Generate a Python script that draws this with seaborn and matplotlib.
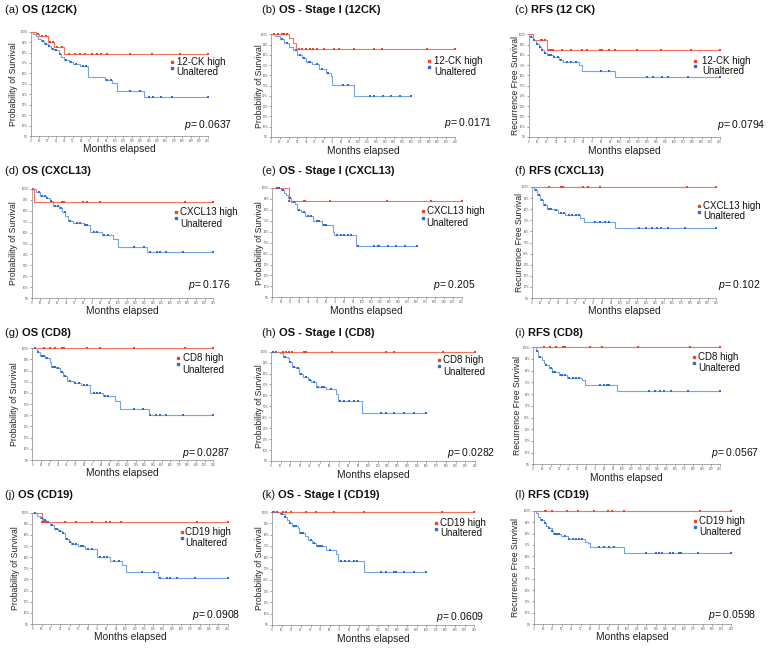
import numpy as np
import pandas as pd
import seaborn as sns
import matplotlib.pyplot as plt

# panel texts
panel_tags = ['(a)', '(b)', '(c)', '(d)', '(e)', '(f)', '(g)', '(h)', '(i)', '(j)', '(k)', '(l)']
panel_names = ['OS (12CK)', 'OS - Stage I (12CK)', 'RFS (12 CK)',
               'OS (CXCL13)', 'OS - Stage I (CXCL13)', 'RFS (CXCL13)',
               'OS (CD8)', 'OS - Stage I (CD8)', 'RFS (CD8)',
               'OS (CD19)', 'OS - Stage I (CD19)', 'RFS (CD19)']
high_labels = ['12-CK high'] * 3 + ['CXCL13 high'] * 3 + ['CD8 high'] * 3 + ['CD19 high'] * 3
p_values = ['0.0637', '0.0171', '0.0794', '0.176', '0.205', '0.102',
            '0.0287', '0.0282', '0.0567', '0.0908', '0.0609', '0.0598']
y_titles = ['Probability of Survival', 'Probability of Survival', 'Recurrence Free Survival'] * 4
x_ticks = list(range(0, 211, 10))
y_ticks = [0.0, 0.1, 0.2, 0.3, 0.4, 0.5, 0.6, 0.7, 0.8, 0.9, 1.0]
y_tick_labels = ['0%', '10%', '20%', '30%', '40%', '50%', '60%', '70%', '80%', '90%', '100%']

# step knots (month, survival) and censor times
a_high_t = [0, 6, 10, 20, 28, 40]
a_high_s = [1.0, 0.98, 0.96, 0.90, 0.85, 0.79]
a_high_c = [9, 13, 18, 23, 27, 31, 37, 45, 53, 59, 65, 73, 79, 83, 91, 118, 144, 177, 210]
a_unalt_t = [0, 3, 6, 9, 12, 16, 20, 24, 28, 33, 36, 40, 45, 50, 58, 68, 88, 97, 102, 135]
a_unalt_s = [1.0, 0.98, 0.96, 0.93, 0.91, 0.88, 0.86, 0.83, 0.82, 0.79, 0.76, 0.73, 0.71, 0.69, 0.67, 0.57, 0.54, 0.51, 0.43, 0.37]
a_unalt_c = [14, 18, 22, 26, 30, 35, 42, 48, 54, 62, 66, 90, 95, 118, 130, 140, 145, 155, 168, 210]

b_high_t = [0, 20, 25, 28]
b_high_s = [1.0, 0.96, 0.92, 0.855]
b_high_c = [3, 8, 12, 15, 18, 32, 35, 40, 45, 48, 52, 60, 72, 78, 95, 118, 127, 178, 210]
b_unalt_t = [0, 5, 10, 15, 20, 25, 30, 35, 40, 47, 55, 63, 68, 70, 95]
b_unalt_s = [1.0, 0.98, 0.95, 0.92, 0.88, 0.85, 0.80, 0.77, 0.73, 0.71, 0.66, 0.62, 0.59, 0.51, 0.40]
b_unalt_c = [12, 18, 28, 33, 38, 43, 45, 52, 58, 65, 82, 88, 113, 118, 128, 137, 147, 160]

c_high_t = [0, 5, 20]
c_high_s = [1.0, 0.94, 0.845]
c_high_c = [13, 15, 18, 22, 25, 27, 37, 46, 59, 64, 78, 81, 88, 95, 119, 145, 178, 210]
c_unalt_t = [0, 2, 5, 8, 11, 14, 17, 20, 27, 33, 38, 55, 59, 95]
c_unalt_s = [1.0, 0.97, 0.94, 0.91, 0.88, 0.85, 0.82, 0.80, 0.78, 0.75, 0.73, 0.70, 0.645, 0.58]
c_unalt_c = [3, 6, 9, 12, 15, 18, 22, 25, 28, 32, 36, 42, 47, 52, 80, 88, 130, 137, 147, 153, 175, 210]

d_high_t = [0, 3]
d_high_s = [1.0, 0.884]
d_high_c = [2, 35, 37, 59, 64, 79, 177, 210]
d_unalt_t = [0, 5, 10, 17, 21, 25, 31, 35, 39, 42, 48, 60, 67, 81, 94, 100, 133]
d_unalt_s = [1.0, 0.97, 0.94, 0.92, 0.89, 0.84, 0.83, 0.79, 0.75, 0.71, 0.69, 0.67, 0.61, 0.58, 0.54, 0.465, 0.42]
d_unalt_c = [8, 12, 15, 18, 22, 27, 30, 34, 38, 44, 52, 56, 62, 64, 72, 76, 84, 88, 118, 130, 137, 145, 148, 155, 175, 210]

e_high_t = [0, 18.5]
e_high_s = [1.0, 0.884]
e_high_c = [19, 35, 37, 64, 127, 176, 210]
e_unalt_t = [0, 10, 13, 16, 18, 21, 25, 28, 32, 37, 45, 55, 67, 69, 93]
e_unalt_s = [1.0, 0.985, 0.955, 0.94, 0.91, 0.87, 0.85, 0.80, 0.78, 0.74, 0.695, 0.66, 0.60, 0.57, 0.47]
e_unalt_c = [5, 8, 12, 20, 24, 30, 35, 40, 43, 50, 52, 58, 60, 72, 76, 80, 84, 88, 95, 113, 117, 118, 128, 137, 147, 160]

f_high_t = [0]
f_high_s = [1.0]
f_high_c = [19, 33, 35, 58, 64, 78, 177, 210]
f_unalt_t = [0, 2, 6, 9, 13, 17, 25, 30, 38, 55, 59, 95]
f_unalt_s = [1.0, 0.975, 0.93, 0.88, 0.84, 0.80, 0.79, 0.765, 0.75, 0.72, 0.685, 0.635]
f_unalt_c = [4, 8, 11, 15, 19, 22, 27, 33, 36, 42, 46, 50, 53, 72, 78, 83, 88, 122, 130, 137, 143, 147, 155, 174, 210]

g_high_t = [0]
g_high_s = [1.0]
g_high_c = [13, 20, 26, 35, 37, 64, 78, 118, 177, 210]
g_unalt_t = [0, 5, 9, 15, 20, 22, 28, 32, 36, 40, 48, 57, 67, 82, 96, 102, 135]
g_unalt_s = [1.0, 0.97, 0.935, 0.91, 0.875, 0.835, 0.82, 0.79, 0.755, 0.71, 0.69, 0.67, 0.60, 0.57, 0.53, 0.455, 0.40]
g_unalt_c = [3, 7, 11, 13, 17, 24, 26, 30, 34, 38, 44, 50, 54, 60, 63, 72, 75, 79, 84, 88, 118, 128, 137, 144, 148, 155, 175, 210]

h_high_t = [0]
h_high_s = [1.0]
h_high_c = [12, 15, 19, 22, 34, 36, 63, 118, 127, 177, 210]
h_unalt_t = [0, 9, 12, 17, 19, 22, 26, 29, 33, 38, 41, 46, 57, 67, 69, 94]
h_unalt_s = [1.0, 0.985, 0.955, 0.94, 0.91, 0.86, 0.85, 0.80, 0.77, 0.74, 0.72, 0.68, 0.655, 0.61, 0.55, 0.435]
h_unalt_c = [2, 5, 14, 20, 24, 28, 31, 36, 40, 44, 48, 52, 55, 62, 71, 75, 80, 85, 90, 113, 118, 127, 137, 147, 160]

i_high_t = [0]
i_high_s = [1.0]
i_high_c = [12, 19, 26, 34, 36, 64, 78, 118, 177, 210]
i_unalt_t = [0, 3, 6, 10, 12, 14, 18, 21, 29, 38, 55, 59, 95]
i_unalt_s = [1.0, 0.97, 0.92, 0.89, 0.87, 0.85, 0.82, 0.79, 0.76, 0.74, 0.72, 0.68, 0.63]
i_unalt_c = [5, 8, 15, 20, 23, 25, 31, 33, 36, 40, 45, 48, 52, 75, 80, 83, 86, 130, 137, 143, 147, 155, 174, 210]

j_high_t = [0, 10]
j_high_s = [1.0, 0.92]
j_high_c = [10, 13, 15, 35, 47, 64, 79, 83, 95, 177, 210]
j_unalt_t = [0, 1, 5, 8, 12, 15, 19, 23, 28, 32, 35, 39, 42, 49, 57, 69, 84, 96, 101, 135]
j_unalt_s = [1.0, 0.995, 0.97, 0.95, 0.935, 0.92, 0.89, 0.85, 0.835, 0.82, 0.76, 0.735, 0.715, 0.70, 0.675, 0.60, 0.57, 0.53, 0.465, 0.415]
j_unalt_c = [3, 10, 14, 17, 21, 25, 27, 30, 33, 37, 40, 44, 47, 52, 55, 60, 64, 73, 77, 80, 88, 93, 118, 131, 137, 145, 148, 155, 175, 210]

k_high_t = [0]
k_high_s = [1.0]
k_high_c = [1, 11, 15, 20, 35, 46, 64, 95, 176, 210]
k_unalt_t = [0, 8, 13, 16, 18, 21, 27, 28, 34, 37, 42, 46, 56, 66, 68, 95]
k_unalt_s = [1.0, 0.985, 0.955, 0.93, 0.90, 0.875, 0.86, 0.81, 0.785, 0.755, 0.725, 0.695, 0.665, 0.63, 0.57, 0.465]
k_unalt_c = [2, 5, 10, 14, 19, 23, 25, 30, 32, 40, 44, 48, 50, 52, 60, 72, 76, 80, 85, 88, 113, 118, 127, 129, 137, 147, 160]

l_high_t = [0]
l_high_s = [1.0]
l_high_c = [12, 13, 19.5, 35.5, 47, 64, 79, 83, 96, 177, 210]
l_unalt_t = [0, 2, 5, 7, 11, 13, 15, 19, 21, 29, 37, 55, 58, 60, 96]
l_unalt_s = [1.0, 0.98, 0.95, 0.92, 0.89, 0.87, 0.85, 0.82, 0.80, 0.775, 0.75, 0.73, 0.715, 0.68, 0.63]
l_unalt_c = [9, 12, 16, 20, 23, 25, 27, 33, 38, 42, 45, 48, 51, 70, 75, 80, 85, 120, 130, 133, 137, 145, 148, 155, 157, 175, 210]

curves = [
    (a_high_t, a_high_s, a_high_c, a_unalt_t, a_unalt_s, a_unalt_c),
    (b_high_t, b_high_s, b_high_c, b_unalt_t, b_unalt_s, b_unalt_c),
    (c_high_t, c_high_s, c_high_c, c_unalt_t, c_unalt_s, c_unalt_c),
    (d_high_t, d_high_s, d_high_c, d_unalt_t, d_unalt_s, d_unalt_c),
    (e_high_t, e_high_s, e_high_c, e_unalt_t, e_unalt_s, e_unalt_c),
    (f_high_t, f_high_s, f_high_c, f_unalt_t, f_unalt_s, f_unalt_c),
    (g_high_t, g_high_s, g_high_c, g_unalt_t, g_unalt_s, g_unalt_c),
    (h_high_t, h_high_s, h_high_c, h_unalt_t, h_unalt_s, h_unalt_c),
    (i_high_t, i_high_s, i_high_c, i_unalt_t, i_unalt_s, i_unalt_c),
    (j_high_t, j_high_s, j_high_c, j_unalt_t, j_unalt_s, j_unalt_c),
    (k_high_t, k_high_s, k_high_c, k_unalt_t, k_unalt_s, k_unalt_c),
    (l_high_t, l_high_s, l_high_c, l_unalt_t, l_unalt_s, l_unalt_c),
]

# layout in pixels: axes box (left, top, right, bottom), title (x, y), ylabel offset
boxes = [(30.7, 31.7, 207.7, 136), (271, 34.3, 455, 137), (528.7, 34.3, 719.7, 137),
         (31.7, 189, 213.3, 298), (272, 188, 461.7, 297.3), (532, 187, 716.3, 298),
         (32.3, 348.3, 213.3, 460), (271, 351.7, 475, 461), (533, 347.3, 719.7, 464.3),
         (32.3, 512.7, 227.7, 624), (272, 512, 474.3, 625), (533.7, 511, 731, 624)]
title_xy = [(5, 10), (262, 10), (515, 10), (5, 171), (262, 171), (515, 171),
            (5, 333), (262, 333), (515, 333), (5, 495), (262, 495), (515, 495)]
ylab_off = [17, 12, 13, 18, 12, 13, 18, 12, 16, 17, 12, 18]
# legend: marker x, first row y, text x, second row y (axes fraction)
leg_pos = [(0.797, 0.712, 0.825, 0.61), (0.857, 0.74, 0.887, 0.63), (0.872, 0.74, 0.907, 0.646),
           (0.793, 0.79, 0.817, 0.68), (0.794, 0.787, 0.815, 0.68), (0.905, 0.832, 0.929, 0.736),
           (0.803, 0.91, 0.831, 0.81), (0.822, 0.923, 0.842, 0.818), (0.86, 0.92, 0.884, 0.825),
           (0.765, 0.827, 0.783, 0.73), (0.811, 0.905, 0.832, 0.811), (0.816, 0.908, 0.839, 0.814)]
p_pos = [(1.136, 0.105), (1.20, 0.14), (1.239, 0.117), (1.092, 0.122), (1.075, 0.115), (1.239, 0.12),
         (1.092, 0.06), (1.10, 0.07), (1.209, 0.094), (1.063, 0.08), (1.05, 0.073), (1.13, 0.08)]

RED_LINE, RED_MARK = '#f3735c', '#e8452c'
BLUE_LINE, BLUE_MARK = '#78a4df', '#2e6cd0'
GREY = '#9a9a9a'

sns.set_theme(style='white')
plt.rcParams['font.family'] = ['Liberation Sans', 'DejaVu Sans']
plt.rcParams['mathtext.fontset'] = 'custom'
plt.rcParams['mathtext.it'] = 'Liberation Sans:italic'
plt.rcParams['mathtext.rm'] = 'Liberation Sans'

W, H = 768, 650
fig = plt.figure(figsize=(W / 100, H / 100), dpi=100)


def step_frame(t, s, end):
    return pd.DataFrame({'months': list(t) + [end], 'surv': list(s) + [s[-1]]})


def censor_frame(t, s, cens):
    idx = np.searchsorted(t, cens, side='right') - 1
    return pd.DataFrame({'months': cens, 'surv': np.asarray(s)[idx]})


for k in range(12):
    left, top, right, bottom = boxes[k]
    ax = fig.add_axes([left / W, 1 - bottom / H, (right - left) / W, (bottom - top) / H])
    w_px, h_px = right - left, bottom - top
    ht, hs, hc, ut, us, uc = curves[k]

    for t, s, c, lc, mc in [(ut, us, uc, BLUE_LINE, BLUE_MARK), (ht, hs, hc, RED_LINE, RED_MARK)]:
        sns.lineplot(data=step_frame(t, s, c[-1]), x='months', y='surv', ax=ax,
                     color=lc, lw=0.8, drawstyle='steps-post', estimator=None, sort=False)
        sns.scatterplot(data=censor_frame(t, s, c), x='months', y='surv', ax=ax,
                        color=mc, marker='s', s=2.5, linewidth=0, zorder=4, clip_on=False)
    for ln in ax.lines:
        ln.set_clip_on(False)

    ax.set_xlim(0, 210)
    ax.set_ylim(0, 1.0)
    ax.set_xticks(x_ticks)
    ax.set_xticklabels([str(v) for v in x_ticks])
    ax.set_yticks(y_ticks)
    ax.set_yticklabels(y_tick_labels)
    ax.tick_params(labelsize=2.0, length=1.3, width=0.4, pad=0.8, colors='#555555', left=True, bottom=True)
    sns.despine(ax=ax)
    for sp in ['left', 'bottom']:
        ax.spines[sp].set_color(GREY)
        ax.spines[sp].set_linewidth(0.6)
    ax.set_xlabel('')
    ax.set_ylabel('')

    # axis labels
    ax.text(0.5, -13.5 / h_px, 'Months elapsed', transform=ax.transAxes, ha='center', va='center',
            fontsize=7.4, color='#222222')
    ax.text(-ylab_off[k] / w_px, 0.5, y_titles[k], transform=ax.transAxes, rotation=90,
            ha='center', va='center', fontsize=6.2, color='#222222')

    # title: tag regular, name bold
    tx, ty = title_xy[k]
    tag = fig.text(tx / W, 1 - ty / H, panel_tags[k] + ' ', fontsize=8, va='center', ha='left', color='#111111')
    ax.annotate(panel_names[k], xy=(1, 0.5), xycoords=tag, va='center', ha='left',
                fontsize=8, fontweight='bold', color='#111111')

    # legend
    mx, ry, txx, uy = leg_pos[k]
    ax.plot([mx], [ry], 's', ms=1.8, color=RED_MARK, transform=ax.transAxes, clip_on=False)
    ax.plot([mx], [ry - 0.55 * (ry - uy)], 's', ms=1.8, color=BLUE_MARK, transform=ax.transAxes, clip_on=False)
    ax.text(txx, ry, high_labels[k], transform=ax.transAxes, va='center', ha='left', fontsize=7, color='#111111')
    ax.text(txx, uy, 'Unaltered', transform=ax.transAxes, va='center', ha='left', fontsize=7, color='#111111')

    # p-value
    px, py = p_pos[k]
    ax.text(px, py, r'$p$= ' + p_values[k], transform=ax.transAxes, va='center', ha='right',
            fontsize=7.5, color='#111111')

fig.savefig('out.png', dpi=100, facecolor='white')
